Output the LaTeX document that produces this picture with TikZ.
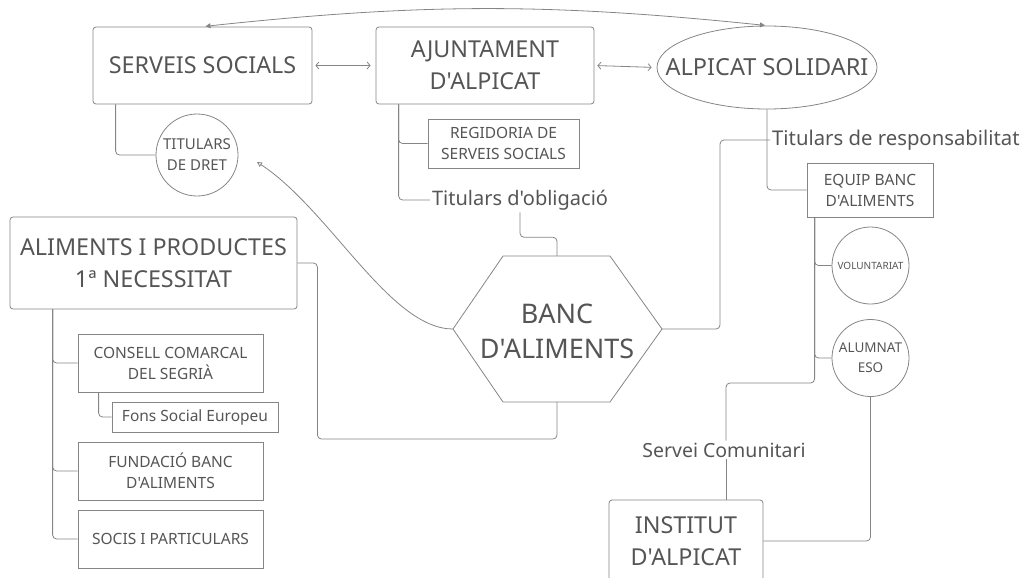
\documentclass[tikz,border=0pt]{standalone}
\usepackage{fontspec}
\setmainfont{Noto Sans}[Ligatures=TeXOff]
\usetikzlibrary{arrows.meta}
\usetikzlibrary{shapes.geometric}
\usetikzlibrary{calc}
\definecolor{linegray}{HTML}{858585}
\definecolor{textgray}{HTML}{555555}

\begin{document}
\begin{tikzpicture}[x=1pt,y=-1pt,
    bigbox/.style={draw=linegray, line width=0.8pt, rounded corners=3pt, text=textgray, align=center, inner sep=0pt, font=\fontsize{23.3}{32}\selectfont},
    smallbox/.style={draw=linegray, line width=0.8pt, text=textgray, align=center, inner sep=0pt, font=\fontsize{15.5}{21}\selectfont},
    bubble/.style={draw=linegray, line width=0.8pt, circle, text=textgray, align=center, inner sep=0pt},
    tag/.style={text=textgray, inner sep=2pt, font=\fontsize{20.3}{24}\selectfont},
    link/.style={draw=linegray, line width=0.8pt, rounded corners=4pt},
    twoway/.style={draw=linegray, line width=0.8pt, {Straight Barb[length=3pt,width=7pt]}-{Straight Barb[length=3pt,width=7pt]}}]
    \useasboundingbox (0,0) rectangle (1025,578);

    % top row
    \node[bigbox, minimum width=219pt, minimum height=77pt] (serveis) at (202.5,65.5) {SERVEIS SOCIALS};
    \node[bigbox, minimum width=218pt, minimum height=77pt] (ajunt) at (485,65.5) {AJUNTAMENT\\D'ALPICAT};
    \node[bubble, ellipse, inner xsep=-24pt, minimum width=220pt, minimum height=83pt, font=\fontsize{23.5}{32}\selectfont] (solidari) at (767,67.5) {ALPICAT SOLIDARI};
    \draw[twoway, shorten <=3pt, shorten >=5pt] (serveis.east) -- (ajunt.west);
    \draw[twoway, shorten <=3pt, shorten >=5pt] (ajunt.east) -- (solidari.west);
    \draw[draw=linegray, line width=0.8pt, {Triangle[length=5pt,width=5pt]}-{Triangle[length=5pt,width=5pt]}, shorten <=3pt, shorten >=2pt] (serveis.north) to[bend left=6] (solidari.north);

    \node[bubble, minimum size=82pt, font=\fontsize{15}{21}\selectfont] (dret) at (197,155) {TITULARS\\DE DRET};
    \draw[link] ($(serveis.south west)+(23,0)$) |- (dret.west);

    \node[smallbox, minimum width=151pt, minimum height=49pt] (regidoria) at (503.5,143.5) {REGIDORIA DE\\SERVEIS SOCIALS};
    \node[tag, font=\fontsize{20}{24}\selectfont] (obligacio) at (520,200) {Titulars d'obligació};
    \draw[link] ($(ajunt.south west)+(23,0)$) |- (regidoria.west);
    \draw[link] ($(ajunt.south west)+(23,0)$) |- (obligacio.west);

    % banc d'aliments
    \coordinate (bancW) at (453,329);
    \coordinate (bancE) at (662,329);
    \coordinate (bancN) at (557,256);
    \coordinate (bancS) at (557,402);
    \draw[draw=linegray, line width=0.8pt] (bancW) -- (503,256) -- (610,256) -- (bancE) -- (610,402) -- (503,402) -- cycle;
    \node[text=textgray, align=center, font=\fontsize{27}{35}\selectfont] (banc) at (557,331) {BANC\\D'ALIMENTS};
    \draw[link] (obligacio.south) -- ++(0,25) -| (bancN);
    \coordinate (dretin) at (257,162);
    \draw[draw=linegray, line width=0.8pt, -{Triangle[open,length=5pt,width=5pt]}] (bancW) .. controls (390,329) and (330,210) .. (dretin);

    % alpicat solidari
    \node[tag, anchor=west] (responsab) at (770,140) {Titulars de responsabilitat};
    \node[smallbox, minimum width=126pt, minimum height=54pt] (equip) at (870,190) {EQUIP BANC\\D'ALIMENTS};
    \coordinate (respbend) at (720,140);
    \draw[link] (solidari.south) |- (equip.west);
    \draw[link] (bancE) -| (respbend) -- (responsab.west);

    \node[bubble, minimum size=77pt, font=\fontsize{10}{14}\selectfont] (volunt) at (870.5,265.5) {VOLUNTARIAT};
    \node[bubble, minimum size=77pt, font=\fontsize{13.5}{20}\selectfont] (alumnat) at (870.5,358) {ALUMNAT\\ESO};
    \draw[link] ($(equip.south west)+(8,0)$) |- (volunt.west);
    \draw[link] ($(equip.south west)+(8,0)$) |- (alumnat.west);

    \node[tag, font=\fontsize{19.5}{24}\selectfont] (servei) at (724,450) {Servei Comunitari};
    \node[bigbox, minimum width=154pt, minimum height=82pt] (institut) at (686,541) {INSTITUT\\D'ALPICAT};
    \coordinate (servbend) at (726,383);
    \draw[link] ($(equip.south west)+(8,0)$) |- (servbend) -- (servbend |- servei.north);
    \draw[link] (servbend |- servei.south) -- (servbend |- institut.north);
    \draw[link] (alumnat.south) |- (institut.east);

    % aliments
    \node[bigbox, minimum width=287pt, minimum height=92pt] (aliments) at (153.5,263) {ALIMENTS I PRODUCTES\\1ª NECESSITAT};
    \coordinate (alimbend) at (557,439);
    \draw[link] (aliments.east) -- ++(20,0) |- (alimbend) -- (bancS);

    \node[smallbox, minimum width=185pt, minimum height=58pt] (consell) at (170.5,363) {CONSELL COMARCAL\\DEL SEGRIÀ};
    \node[smallbox, minimum width=166pt, minimum height=30pt] (fons) at (195,417) {Fons Social Europeu};
    \node[smallbox, minimum width=185pt, minimum height=58pt] (fundacio) at (170.5,471) {FUNDACIÓ BANC\\D'ALIMENTS};
    \node[smallbox, minimum width=185pt, minimum height=58pt] (socis) at (170.5,539) {SOCIS I PARTICULARS};
    \draw[link] ($(aliments.south west)+(43,0)$) |- (consell.west);
    \draw[link] ($(aliments.south west)+(43,0)$) |- (fundacio.west);
    \draw[link] ($(aliments.south west)+(43,0)$) |- (socis.west);
    \draw[link] ($(consell.south west)+(21,0)$) |- (fons.west);
\end{tikzpicture}
\end{document}
